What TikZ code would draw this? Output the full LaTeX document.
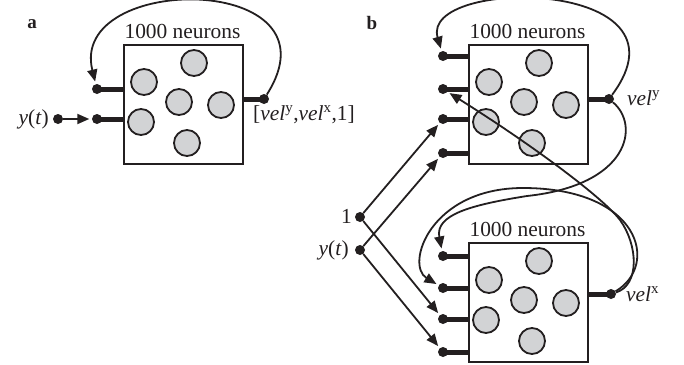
\documentclass[tikz,border=0pt]{standalone}
\usepackage{fontspec}
\setmainfont{Liberation Serif}
\usetikzlibrary{arrows.meta}
\definecolor{ink}{HTML}{231F20}
\definecolor{cellgray}{HTML}{D2D3D5}
\tikzset{
  box/.style={draw=ink,line width=1.9pt,minimum width=119pt,minimum height=119pt,inner sep=0pt},
  cell/.style={circle,draw=ink,fill=cellgray,line width=1.8pt,minimum size=26pt,inner sep=0pt},
  dot/.style={circle,fill=ink,minimum size=10pt,inner sep=0pt},
  port/.style={line width=5pt,draw=ink},
  arr/.style={line width=1.8pt,draw=ink,-{Triangle[length=12pt,width=10pt]},shorten >=2.5pt},
  lbl/.style={inner sep=0pt,text=ink},
  panel/.style={inner sep=0pt,text=ink,font=\fontsize{19}{21}\selectfont\bfseries},
  pics/neurbox/.style={code={
    \node[box,anchor=north west] (-box) at (0,0) {};
    \node[lbl,anchor=base] (-title) at (59.5,-6) {1000 neurons};
    \foreach \cx/\cy [count=\i] in {71/19,21/38,56/58,98/61,18/78,64/99}
      \node[cell] (-c\i) at (\cx,\cy) {};
  }}
}
\begin{document}
\begin{tikzpicture}[x=1pt,y=-1pt,font=\fontsize{21.4}{24}\selectfont]
\useasboundingbox[fill=white] (0,0) rectangle (684,364);

% ---------- panel a ----------
\node[panel] (la) at (32,24) {a};
\pic (A) at (123,44) {neurbox};
\node[dot] (a1) at (97,89) {};
\node[dot] (a2) at (97,119) {};
\node[dot] (aout) at (264,99) {};
\draw[port] (a1.center) -- (a1.center -| A-box.west);
\draw[port] (a2.center) -- (a2.center -| A-box.west);
\draw[port] (aout.center) -- (aout.center -| A-box.east);
\node[dot] (ya) at (58,119) {};
\node[lbl,anchor=base east] (yalbl) at (49,124) {\textit{y}(\textit{t})};
\node[lbl,anchor=base west] (aoutlbl) at (253,120) {[\textit{vel}\textsuperscript{y},\textit{vel}\textsuperscript{x},1]};
\draw[arr] (ya) -- (a2);
\draw[arr] (aout) .. controls (345,-28) and (68,-28) .. (a1);

% ---------- panel b ----------
\node[panel] (lb) at (372,23) {b};
\pic (T) at (468,44) {neurbox};
\pic (B) at (468,242) {neurbox};
\foreach \n/\yy in {t1/56,t2/89,t3/119,t4/153,b1/256,b2/288,b3/319,b4/352}{
  \node[dot] (\n) at (443,\yy) {};
  \draw[port] (\n.center) -- (\n.center -| T-box.west);
}
\node[dot] (tout) at (609,99) {};
\node[dot] (bout) at (611,294) {};
\draw[port] (tout.center) -- (tout.center -| T-box.east);
\draw[port] (bout.center) -- (bout.center -| B-box.east);
\node[lbl,anchor=base west] (toutlbl) at (627,105) {\textit{vel}\textsuperscript{y}};
\node[lbl,anchor=base west] (boutlbl) at (626,301) {\textit{vel}\textsuperscript{x}};

\node[dot] (one) at (360,217) {};
\node[dot] (yb) at (360,250) {};
\node[lbl,anchor=base east] (onelbl) at (352,223) {1};
\node[lbl,anchor=base east] (yblbl) at (349,255) {\textit{y}(\textit{t})};

\draw[arr] (one) -- (t3);
\draw[arr] (yb) -- (t4);
\draw[arr] (one) -- (b3);
\draw[arr] (yb) -- (b4);

\draw[arr] (tout) .. controls (700,-23) and (420,-23) .. (t1);
\draw[arr] (tout) .. controls (640,125) and (630,185) .. (527,196)
                  .. controls (470,205) and (435,215) .. (b1);
\draw[arr] (bout) .. controls (660,265) and (640,188) .. (523,188)
                  .. controls (430,188) and (405,265) .. (b2);
\draw[arr] (bout) .. controls (640,285) and (638,245) .. (620,220)
                  .. controls (605,200) and (540,150) .. (t2);
\end{tikzpicture}
\end{document}
